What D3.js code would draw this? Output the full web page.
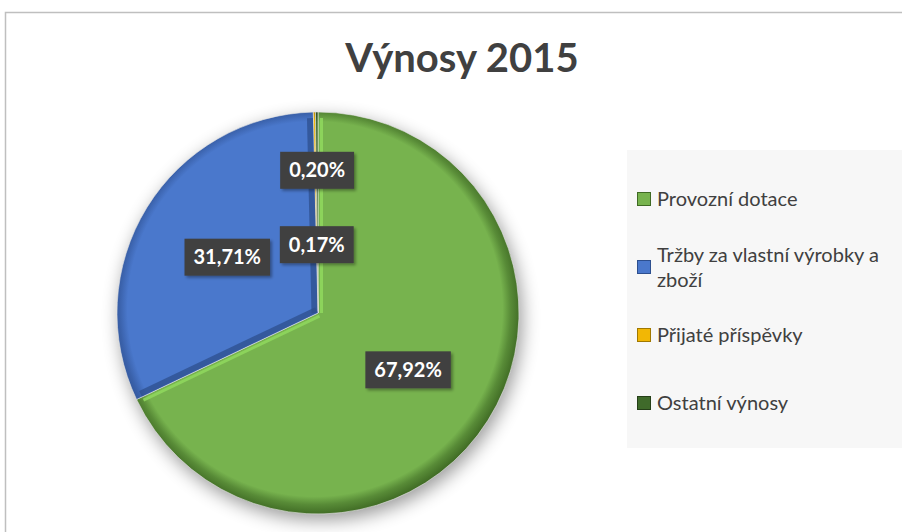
<!DOCTYPE html>
<html lang="cs">
<head>
<meta charset="UTF-8">
<title>Výnosy 2015</title>
<script src="https://d3js.org/d3.v7.min.js"></script>
<style>
  body { margin: 0; background: #fff; }
  svg { display: block; }
</style>
</head>
<body>
<svg width="902" height="532"></svg>
<script>
// data
const categories = ["Provozní dotace", "Tržby za vlastní výrobky a zboží", "Přijaté příspěvky", "Ostatní výnosy"];
const values = [67.92, 31.71, 0.17, 0.20];
const colors = ["#77b34e", "#4a78cc", "#f2b705", "#3f6a2a"];
const darkColors = ["#3f6a24", "#2d4f8e", "#a07800", "#253f18"];
// how far out the labels sit (fraction of radius), the small ones pushed apart
const labelPos = [0.53, 0.53, 0.34, 0.71];

const font = "Lato, 'Open Sans', sans-serif";
const svg = d3.select("svg");
const cx = 318, cy = 313, r = 201;

const defs = svg.append("defs");
const shadow = defs.append("filter").attr("id", "shadow")
    .attr("x", "-20%").attr("y", "-20%").attr("width", "140%").attr("height", "140%");
shadow.append("feGaussianBlur").attr("in", "SourceAlpha").attr("stdDeviation", 9);
shadow.append("feOffset").attr("dx", 3).attr("dy", 6).attr("result", "b");
shadow.append("feComponentTransfer").append("feFuncA").attr("type", "linear").attr("slope", 0.4);

const lblShadow = defs.append("filter").attr("id", "lblshadow")
    .attr("x", "-20%").attr("y", "-20%").attr("width", "150%").attr("height", "150%");
lblShadow.append("feDropShadow").attr("dx", 2).attr("dy", 2).attr("stdDeviation", 1.5)
    .attr("flood-color", "#000").attr("flood-opacity", 0.35);

colors.forEach((c, i) => {
    const g = defs.append("radialGradient").attr("id", "rg" + i)
        .attr("gradientUnits", "userSpaceOnUse")
        .attr("cx", -3).attr("cy", -4).attr("r", r + 5);
    g.append("stop").attr("offset", "0%").attr("stop-color", c);
    g.append("stop").attr("offset", "91%").attr("stop-color", c);
    g.append("stop").attr("offset", "95%").attr("stop-color", d3.interpolateRgb(c, darkColors[i])(0.55));
    g.append("stop").attr("offset", "100%").attr("stop-color", darkColors[i]);
});

// chart frame
svg.append("path")
    .attr("d", "M5.5,532 V12.5 H902")
    .attr("fill", "none")
    .attr("stroke", "#bfbfbf")
    .attr("stroke-width", 1.5);

// title
svg.append("text")
    .attr("x", 462).attr("y", 72)
    .attr("text-anchor", "middle")
    .attr("font-family", font)
    .attr("font-weight", "bold")
    .attr("font-size", 40)
    .attr("fill", "#404040")
    .text("Výnosy 2015");

// pie
const pie = d3.pie().sort(null).value(d => d);
const arcs = pie(values);
const arc = d3.arc().innerRadius(0).outerRadius(r);

const g = svg.append("g").attr("transform", `translate(${cx},${cy})`);

g.append("circle").attr("r", r).attr("fill", "#fff").attr("filter", "url(#shadow)");

g.selectAll("path.slice")
    .data(arcs)
    .join("path")
    .attr("class", "slice")
    .attr("d", arc)
    .attr("fill", (d, i) => `url(#rg${i})`)
    .attr("stroke", "#e8e8e8")
    .attr("stroke-width", 0.6);

// bevel along the radial sides: lit from upper left
const light = [-0.7, -0.7];
arcs.forEach((d, i) => {
    if (d.endAngle - d.startAngle < 0.05) return;
    [[d.startAngle, -1], [d.endAngle, 1]].forEach(([a, side]) => {
        const na = a + side * Math.PI / 2;
        const nx = Math.sin(na), ny = -Math.cos(na);
        const lit = nx * light[0] + ny * light[1] > 0;
        // shift the line inwards into the slice
        const ox = -nx * 3.5, oy = -ny * 3.5;
        g.append("line")
            .attr("x1", ox).attr("y1", oy)
            .attr("x2", Math.sin(a) * (r - 6) + ox).attr("y2", -Math.cos(a) * (r - 6) + oy)
            .attr("stroke", lit ? d3.color(colors[i]).brighter(0.5) : darkColors[i])
            .attr("stroke-opacity", lit ? 0.9 : 0.75)
            .attr("stroke-width", lit ? 3 : 6);
    });
});

// data labels
const locale = d3.formatLocale({ decimal: ",", thousands: " ", grouping: [3], currency: ["", " Kč"] });
const fmt = locale.format(".2f");

arcs.forEach((d, i) => {
    const a = (d.startAngle + d.endAngle) / 2;
    const lx = Math.sin(a) * r * labelPos[i];
    const ly = -Math.cos(a) * r * labelPos[i];
    const lg = g.append("g").attr("transform", `translate(${lx},${ly})`);
    const t = lg.append("text")
        .attr("text-anchor", "middle")
        .attr("dy", "0.36em")
        .attr("font-family", font)
        .attr("font-weight", "bold")
        .attr("font-size", 20)
        .attr("fill", "#fff")
        .text(fmt(values[i]) + "%");
    const w = t.node().getComputedTextLength() + 18;
    lg.insert("rect", "text")
        .attr("x", -w / 2).attr("y", -18.5)
        .attr("width", w).attr("height", 37)
        .attr("fill", "#404040")
        .attr("filter", "url(#lblshadow)");
});

// legend
const legend = svg.append("g");
legend.append("rect")
    .attr("x", 627).attr("y", 150)
    .attr("width", 280).attr("height", 298)
    .attr("fill", "#f7f7f7");

const rowY = d3.scalePoint().domain(categories).range([199, 403]);
const maxW = 238;

categories.forEach((c, i) => {
    const y = rowY(c);
    legend.append("rect")
        .attr("x", 637.5).attr("y", y - 6.5)
        .attr("width", 13).attr("height", 13)
        .attr("fill", colors[i])
        .attr("stroke", darkColors[i])
        .attr("stroke-width", 1);
    const t = legend.append("text")
        .attr("x", 657).attr("y", y)
        .attr("dy", "0.35em")
        .attr("font-family", font)
        .attr("font-size", 20)
        .attr("fill", "#404040");
    // simple word wrap
    const words = c.split(" ");
    let line = [];
    let ts = t.append("tspan").attr("x", 657);
    let lineNo = 0;
    words.forEach(wd => {
        line.push(wd);
        ts.text(line.join(" "));
        if (ts.node().getComputedTextLength() > maxW && line.length > 1) {
            line.pop();
            ts.text(line.join(" "));
            line = [wd];
            lineNo++;
            ts = t.append("tspan").attr("x", 657).attr("dy", 25).text(wd);
        }
    });
    if (lineNo > 0) t.attr("y", y - 12.5 * lineNo);
});
</script>
</body>
</html>
